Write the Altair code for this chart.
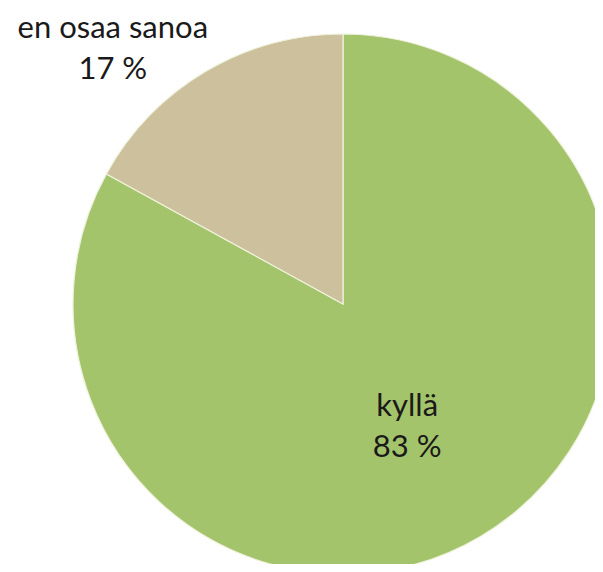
import altair as alt
import pandas as pd
import math

categories = ["kyllä", "en osaa sanoa"]
values = [83, 17]
labels = ["kyllä\n83 %", "en osaa sanoa\n17 %"]
colors = ["#A4C46B", "#CDC09D"]

df = pd.DataFrame({"cat": categories, "val": values, "label": labels, "order": [0, 1]})

W, H = 587, 556
CX, CY = 335, 296
R = 270

theta_scale = alt.Scale(domain=[0, 100], range=[0, 2 * math.pi])

base = alt.Chart(df).transform_window(
    cum="sum(val)", sort=[alt.SortField("order")]
).transform_calculate(
    start="datum.cum - datum.val", mid="datum.cum - datum.val / 2"
)

pie = base.mark_arc(stroke="#EEF2DC", strokeWidth=1.2).encode(
    theta=alt.Theta("start:Q", scale=theta_scale, stack=None),
    theta2="cum:Q",
    color=alt.Color("cat:N", scale=alt.Scale(domain=categories, range=colors), legend=None),
    x=alt.value(CX), y=alt.value(CY), radius=alt.value(R),
)

txt = dict(font="Lato", fontSize=31, lineBreak="\n", lineHeight=41, color="#1a1a1a",
           align="center", baseline="middle")

lab1 = base.transform_filter(alt.datum.cat == "kyllä").mark_text(dx=-4, dy=-12, **txt).encode(
    theta=alt.Theta("mid:Q", scale=theta_scale, stack=None),
    text="label:N", x=alt.value(CX), y=alt.value(CY), radius=alt.value(134))

lab2 = base.transform_filter(alt.datum.cat == "en osaa sanoa").mark_text(dx=-80, dy=-21, **txt).encode(
    theta=alt.Theta("mid:Q", scale=theta_scale, stack=None),
    text="label:N", x=alt.value(CX), y=alt.value(CY), radius=alt.value(295))

chart = alt.layer(pie, lab1, lab2).properties(
    width=W, height=H, padding=0, autosize=alt.AutoSizeParams(type="none")
).configure_view(stroke=None)

chart.save("out.html", embed_options={"renderer": "svg", "actions": False})
